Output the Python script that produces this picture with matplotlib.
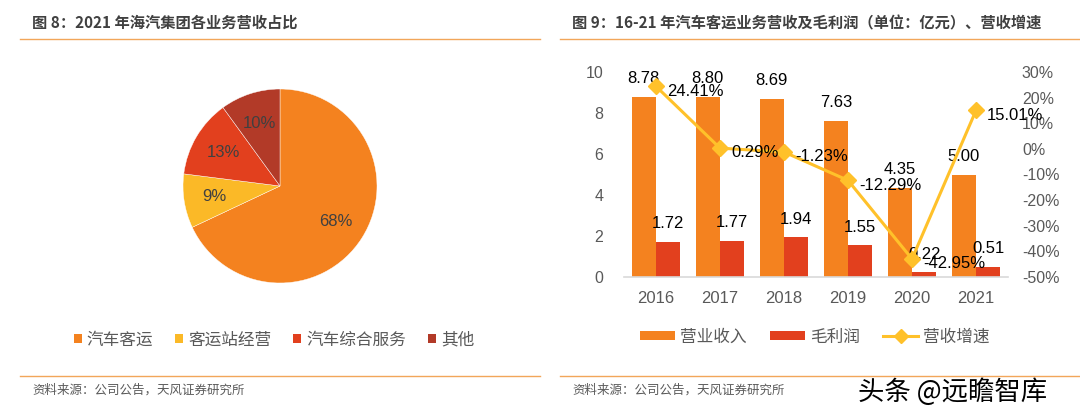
import matplotlib
matplotlib.use('Agg')
import matplotlib.pyplot as plt
from matplotlib.patches import Patch
from matplotlib.lines import Line2D
import numpy as np

# ---------------- data ----------------
pie_labels = ['汽车客运', '客运站经营', '汽车综合服务', '其他']
pie_values = [68, 9, 13, 10]

years = ['2016', '2017', '2018', '2019', '2020', '2021']
revenue = [8.78, 8.80, 8.69, 7.63, 4.35, 5.00]
gross_profit = [1.72, 1.77, 1.94, 1.55, 0.22, 0.51]
growth = [24.41, 0.29, -1.23, -12.29, -42.95, 15.01]
left_ticks = [0, 2, 4, 6, 8, 10]
growth_ticks = [30, 20, 10, 0, -10, -20, -30, -40, -50]
bar_names = ['营业收入', '毛利润', '营收增速']

title_left = '图 8：2021 年海汽集团各业务营收占比'
title_right = '图 9：16-21 年汽车客运业务营收及毛利润（单位：亿元）、营收增速'
source_text = '资料来源：公司公告，天风证券研究所'
watermark = '头条 @远瞻智库'

# ---------------- style ----------------
C_ORANGE = '#F4821F'
C_YELLOW = '#FBB927'
C_RED = '#E2401E'
C_DARKRED = '#B23A28'
C_LINE = '#FFC12A'
C_SEP = '#F2A65A'
C_GREY = '#595959'
C_TXT = '#404040'
pie_colors = [C_ORANGE, C_YELLOW, C_RED, C_DARKRED]

FONT = ['Liberation Sans', 'Noto Sans CJK SC', 'DejaVu Sans']
NARROW = ['Liberation Sans Narrow', 'Liberation Sans', 'DejaVu Sans']
CJK = ['Noto Sans CJK SC', 'DejaVu Sans']
plt.rcParams['font.family'] = FONT

W, H = 1080, 419
fig = plt.figure(figsize=(W / 100, H / 100), dpi=100)
fig.patch.set_facecolor('white')


def rect(x0, y0, x1, y1):
    return [x0 / W, 1 - y1 / H, (x1 - x0) / W, (y1 - y0) / H]


def fx(x):
    return x / W


def fy(y):
    return 1 - y / H


# ---------------- titles / separators / footers ----------------
fig.text(fx(32), fy(23), title_left, family=CJK, fontsize=11, fontweight='bold',
         color=C_TXT, ha='left', va='center')
fig.text(fx(572), fy(23), title_right, family=CJK, fontsize=11, fontweight='bold',
         color=C_TXT, ha='left', va='center')
for (x0, x1) in [(20, 540), (560, 1080)]:
    for y in (39, 376):
        fig.add_artist(Line2D([fx(x0), fx(x1)], [fy(y), fy(y)], color=C_SEP, lw=1.0))
fig.text(fx(32), fy(390), source_text, family=CJK, fontsize=9, color=C_GREY,
         ha='left', va='center')
fig.text(fx(572), fy(390), source_text, family=CJK, fontsize=9, color=C_GREY,
         ha='left', va='center')
fig.text(fx(858), fy(392), watermark, family=CJK, fontsize=19, color='black',
         ha='left', va='center')

# ---------------- pie ----------------
axp = fig.add_axes(rect(183, 89, 377, 283))
wedges, texts, autotexts = axp.pie(
    pie_values, colors=pie_colors, startangle=90, counterclock=False,
    autopct=lambda p: f'{p:.0f}%', pctdistance=0.68,
    wedgeprops=dict(edgecolor='white', linewidth=0.3),
    textprops=dict(fontsize=12, color=C_TXT))
axp.set_xlim(-1, 1)
axp.set_ylim(-1, 1)
axp.set_aspect('equal')

handles = [Patch(facecolor=c, edgecolor='none') for c in pie_colors]
fig.legend(handles, pie_labels, loc='center', bbox_to_anchor=(fx(274), fy(340)),
           ncol=4, frameon=False, handlelength=0.5, handleheight=0.5,
           handletextpad=0.3, columnspacing=1.3,
           prop=dict(family=CJK, size=12), labelcolor=C_GREY)

# ---------------- bar + line chart ----------------
ax = fig.add_axes(rect(624, 72, 1008, 277))
x = np.arange(len(years))
bw = 0.38
b1 = ax.bar(x - bw / 2, revenue, bw, color=C_ORANGE, zorder=2)
b2 = ax.bar(x + bw / 2, gross_profit, bw, color=C_RED, zorder=2)
ax.set_xlim(-0.5, 5.5)
ax.set_ylim(0, 10)
ax.set_yticks(left_ticks)
ax.set_yticklabels([str(t) for t in left_ticks])
ax.set_xticks(x)
ax.set_xticklabels(years)
for s in ['top', 'right', 'left']:
    ax.spines[s].set_visible(False)
ax.spines['bottom'].set_color('#D9D9D9')
ax.spines['bottom'].set_linewidth(1.2)
ax.tick_params(axis='y', length=0, pad=15, labelsize=11.5, labelcolor=C_GREY)
ax.tick_params(axis='x', length=0, pad=10, labelsize=12, labelcolor=C_GREY)

for xi, v in zip(x - bw / 2, revenue):
    ax.annotate(f'{v:.2f}', (xi, v), xytext=(0, 13), textcoords='offset points',
                ha='center', va='center', fontsize=12, color='black', zorder=5)
for xi, v in zip(x + bw / 2, gross_profit):
    ax.annotate(f'{v:.2f}', (xi, v), xytext=(0, 13), textcoords='offset points',
                ha='center', va='center', fontsize=12, color='black', zorder=5)

ax2 = ax.twinx()
ax2.plot(x, growth, color=C_LINE, lw=2.2, marker='D', ms=8, zorder=3)
ax2.set_ylim(-50, 30)
ax2.set_yticks(growth_ticks)
ax2.set_yticklabels([f'{t}%' for t in growth_ticks], family=NARROW)
for s in ['top', 'right', 'left', 'bottom']:
    ax2.spines[s].set_visible(False)
ax2.tick_params(axis='y', length=0, pad=10, labelsize=11.5, labelcolor=C_GREY)
for xi, v in zip(x, growth):
    ax2.annotate(f'{v:.2f}%', (xi, v), xytext=(8, -3.5), textcoords='offset points',
                 ha='left', va='center', fontsize=12, color='black', zorder=6)

lh = [Patch(facecolor=C_ORANGE, edgecolor='none'),
      Patch(facecolor=C_RED, edgecolor='none'),
      Line2D([], [], color=C_LINE, lw=2.2, marker='D', ms=7)]
fig.legend(lh, bar_names, loc='center', bbox_to_anchor=(fx(815), fy(337)),
           ncol=3, frameon=False, handlelength=2.1, handleheight=0.5,
           handletextpad=0.3, columnspacing=1.4,
           prop=dict(family=CJK, size=12), labelcolor=C_GREY)

fig.savefig('out.png', dpi=100, facecolor='white')
